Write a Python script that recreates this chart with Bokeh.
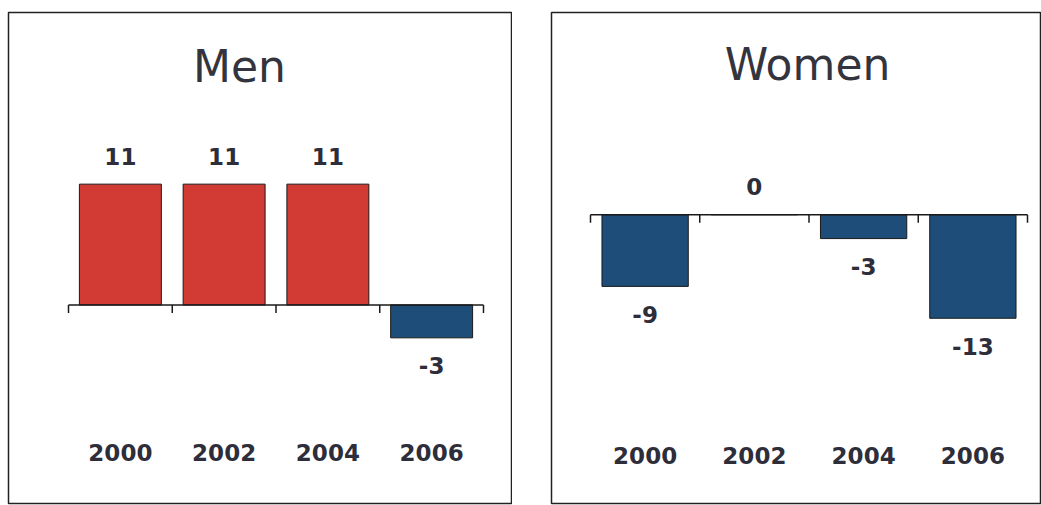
import numpy as np
from bokeh.plotting import figure
from bokeh.layouts import row
from bokeh.models import Range1d, ColumnDataSource, Label, Spacer
from bokeh.core.properties import value
from bokeh.embed import file_html
from bokeh.resources import INLINE

years = ["2000", "2002", "2004", "2006"]
men = [11, 11, 11, -3]
women = [-9, 0, -3, -13]

RED = "#d23b33"
BLUE = "#1d4d78"
TXT = "#2e2e3a"
FONT = "DejaVu Sans"


def panel(title, vals, width, height, x_rng, y_rng, borders, px_per_unit, label_y, title_x, title_y):
    p = figure(width=width, height=height, x_range=Range1d(*x_rng), y_range=Range1d(*y_rng),
               output_backend="svg", toolbar_location=None,
               x_axis_location=None, y_axis_location=None)
    p.min_border_left, p.min_border_top, p.min_border_right, p.min_border_bottom = borders
    p.grid.visible = False
    p.outline_line_color = "#222222"
    p.outline_line_width = 1.5
    p.background_fill_color = "white"
    p.border_fill_color = "white"

    n = len(years)
    xs = np.arange(n) + 0.5
    colors = [RED if v > 0 else BLUE for v in vals]
    offs = [-28 if v >= 0 else 28 for v in vals]
    src = ColumnDataSource(dict(x=xs, top=vals, color=colors, off=offs,
                                lab=[str(v) for v in vals]))
    p.vbar(x="x", top="top", bottom=0, width=0.79, fill_color="color",
           line_color="#1a1a1a", line_width=1, source=src)

    # zero line with ticks at category boundaries
    bounds = np.arange(n + 1)
    tick_len = 8 / px_per_unit
    p.segment(x0=[0], y0=[0], x1=[n], y1=[0], line_color="#1a1a1a", line_width=1.5)
    p.segment(x0=bounds, y0=[0] * (n + 1), x1=bounds, y1=[-tick_len] * (n + 1),
              line_color="#1a1a1a", line_width=1.5)

    # value labels
    p.text(x="x", y="top", text="lab", y_offset="off", source=src,
           text_align="center", text_baseline="middle",
           text_font=value(FONT), text_font_style="bold", text_font_size="23px",
           text_color=TXT)

    # category labels
    p.text(x=xs, y=[label_y] * n, text=years,
           text_align="center", text_baseline="middle",
           text_font=value(FONT), text_font_style="bold", text_font_size="23px",
           text_color=TXT)

    p.add_layout(Label(x=title_x, y=title_y, x_units="screen", y_units="screen", text=title,
                       text_align="center", text_baseline="middle",
                       text_font=FONT, text_font_size="44px", text_color="#34343e"))
    return p


H = 505
left = panel("Men", men, 512, H,
             x_rng=(-(68 - 8) / 103.75, 4 + (511 - 483) / 103.75),
             y_rng=(-(504 - 305) / 11, (305 - 12) / 11),
             borders=(8, 12, 1, 1), px_per_unit=11, label_y=-(453 - 305) / 11,
             title_x=239 - 8, title_y=H - 68)

right = panel("Women", women, 491, H,
              x_rng=(-(590 - 551) / 109.25, 4 + (1041 - 1027) / 109.25),
              y_rng=(-(503 - 213) / 8, (213 - 10) / 8),
              borders=(1, 10, 0, 2), px_per_unit=8, label_y=-(455 - 213) / 8,
              title_x=807 - 551, title_y=H - 66)

layout = row(left, Spacer(width=38, height=H), right)

open("out.html", "w").write(file_html(layout, INLINE))
